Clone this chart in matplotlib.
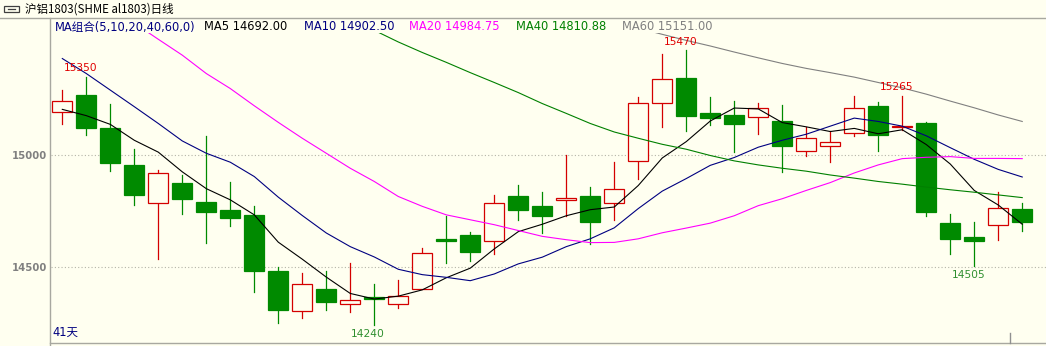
import numpy as np
import matplotlib
matplotlib.use("Agg")
import matplotlib.pyplot as plt
from matplotlib.lines import Line2D
from matplotlib.patches import Rectangle

W, H = 1046, 346
BG = "#FFFFF0"
UP = "#D40000"
DOWN = "#008A00"

# daily OHLC for 41 sessions
opens = [15194, 15269, 15124, 14958, 14789, 14878, 14793, 14757, 14734, 14483,
         14303, 14403, 14334, 14365, 14334, 14401, 14628, 14646, 14617, 14820,
         14775, 14800, 14820, 14787, 14975, 15235, 15344, 15191, 15178, 15172,
         15151, 15020, 15042, 15100, 15218, 15125, 15142, 14699, 14636, 14688,
         14761]
highs = [15290, 15350, 15227, 15030, 14936, 14914, 15087, 14881, 14775, 14500,
         14473, 14483, 14521, 14425, 14443, 14585, 14730, 14657, 14824, 14869,
         14837, 15002, 14857, 14972, 15262, 15451, 15470, 15258, 15244, 15232,
         15223, 15127, 15109, 15263, 15237, 15265, 15148, 14739, 14703, 14837,
         14789]
lows = [15141, 15090, 14928, 14776, 14539, 14737, 14610, 14686, 14391, 14252,
        14272, 14307, 14298, 14240, 14316, 14401, 14518, 14530, 14561, 14713,
        14651, 14728, 14603, 14709, 14892, 15125, 15108, 15134, 15013, 15097,
        14924, 14999, 14969, 15085, 15018, 15115, 14727, 14560, 14505, 14622,
        14664]
closes = [15244, 15121, 14964, 14821, 14921, 14803, 14745, 14718, 14485, 14307,
          14424, 14346, 14354, 14358, 14371, 14564, 14619, 14570, 14787, 14754,
          14728, 14811, 14704, 14849, 15235, 15342, 15175, 15166, 15139, 15212,
          15040, 15078, 15060, 15212, 15090, 15132, 14745, 14628, 14619, 14764,
          14700]

nan = np.nan
ma5 = [15205, 15177, 15138, 15067, 15014, 14926, 14851, 14801, 14734, 14612,
       14536, 14456, 14383, 14358, 14371, 14399, 14453, 14496, 14582, 14659,
       14692, 14730, 14757, 14769, 14865, 14988, 15061, 15153, 15211, 15207,
       15146, 15127, 15106, 15120, 15096, 15114, 15048, 14961, 14843, 14778,
       14692]
ma10 = [15432, 15365, 15291, 15217, 15142, 15064, 15009, 14969, 14905, 14813,
        14731, 14653, 14592, 14546, 14491, 14467, 14455, 14440, 14470, 14515,
        14545, 14592, 14627, 14676, 14762, 14840, 14896, 14955, 14990, 15036,
        15067, 15094, 15130, 15166, 15151, 15130, 15087, 15034, 14982, 14937,
        14903]
ma20 = [nan, nan, nan, 15590, 15518, 15447, 15365, 15298, 15221, 15147,
        15076, 15009, 14942, 14883, 14816, 14772, 14734, 14712, 14690, 14664,
        14638, 14623, 14610, 14611, 14627, 14654, 14675, 14697, 14730, 14775,
        14806, 14843, 14878, 14921, 14957, 14985, 14991, 14994, 14986, 14986,
        14985]
ma40 = [nan] * 13 + [
        15558, 15506, 15459, 15415, 15369, 15325, 15280,
        15231, 15187, 15142, 15104, 15076, 15049, 15027, 14999, 14975, 14957,
        14942, 14929, 14912, 14898, 14883, 14871, 14858, 14846, 14835, 14823,
        14811]
ma60 = [nan] * 24 + [
        15568, 15540, 15513, 15488, 15461, 15435,
        15410, 15388, 15369, 15349, 15325, 15301, 15273, 15242, 15212, 15180,
        15151]

ma_names = ["MA5", "MA10", "MA20", "MA40", "MA60"]
ma_last = ["14692.00", "14902.50", "14984.75", "14810.88", "15151.00"]
ma_colors = ["#000000", "#000080", "#FF00FF", "#008000", "#808080"]
ma_text_x = [204, 304, 409, 516, 622]

high_marks = [2, 27, 36]
low_marks = [14, 39]
y_ticks = [14500, 15000]

title = "沪铝1803(SHME al1803)日线"
ma_header = "MA组合(5,10,20,40,60,0)"
days_label = "41天"

FONTS = ["DejaVu Sans", "Noto Sans CJK SC"]
CJK = ["Noto Sans CJK SC", "DejaVu Sans"]


def fx(x):
    return x / W


def fy(y):
    return 1 - y / H


fig = plt.figure(figsize=(W / 100, H / 100), dpi=100, facecolor=BG)
ax = fig.add_axes([fx(51), fy(342.5), fx(W - 51), (342.5 - 33) / H])
ax.set_facecolor(BG)
for s in ax.spines.values():
    s.set_visible(False)
ax.set_xlim(0.529, 41.99)
ax.set_ylim(14164, 15546)
ax.set_xticks([])
ax.set_yticks(y_ticks)
ax.set_yticklabels([str(v) for v in y_ticks], fontweight="bold")
ax.tick_params(axis="y", length=0, pad=2.5, labelsize=7.3, labelcolor="#808080")
for v in y_ticks:
    ax.axhline(v, color="#B4B4A8", lw=0.8, ls=(0, (1, 2)), zorder=0)

n = len(closes)
xs = np.arange(1, n + 1)
bw = 0.82
for i in range(n):
    x = xs[i]
    o, h, l, c = opens[i], highs[i], lows[i], closes[i]
    top, bot = max(o, c), min(o, c)
    if c > o:
        ax.plot([x, x], [top, h], color=UP, lw=0.9, zorder=2)
        ax.plot([x, x], [l, bot], color=UP, lw=0.9, zorder=2)
        ax.add_patch(Rectangle((x - bw / 2, bot), bw, top - bot, facecolor=BG,
                               edgecolor=UP, lw=0.9, zorder=3))
    else:
        ax.plot([x, x], [l, h], color=DOWN, lw=0.9, zorder=2)
        ax.add_patch(Rectangle((x - bw / 2, bot), bw, max(top - bot, 4), facecolor=DOWN,
                               edgecolor=DOWN, lw=0.9, zorder=3))

for vals, col in zip([ma5, ma10, ma20, ma40, ma60], ma_colors):
    ax.plot(xs, vals, color=col, lw=0.8, zorder=4)

for k in high_marks:
    ax.annotate(str(highs[k - 1]), (k, highs[k - 1]), xytext=(-6, 8.5),
                textcoords="offset pixels", ha="center", va="center",
                fontsize=7.7, color="#E00000", zorder=6)
for k in low_marks:
    ax.annotate(str(lows[k - 1]), (k, lows[k - 1]), xytext=(-6, -9),
                textcoords="offset pixels", ha="center", va="center",
                fontsize=7.7, color="#2F8F2F", zorder=6)

# frame lines
fig.add_artist(Line2D([0, 1], [fy(18), fy(18)], color="#A8A8A0", lw=1))
fig.add_artist(Line2D([fx(50), fx(50)], [fy(18), 0], color="#A8A8A0", lw=1))
fig.add_artist(Line2D([fx(50), 1], [fy(342.5), fy(342.5)], color="#A8A8A0", lw=1))
fig.add_artist(Line2D([fx(1010), fx(1010)], [fy(333), fy(342.5)], color="#909090", lw=1))

# header icon and title
fig.add_artist(Rectangle((fx(4), fy(12)), fx(15), 6 / H, fill=False,
                         edgecolor="#404040", lw=0.9))
fig.add_artist(Line2D([fx(8), fx(15)], [fy(9), fy(9)], color="#404040", lw=0.9))
fig.text(fx(25), fy(9), title, family=CJK, fontsize=8.3, color="#000000",
         ha="left", va="center")

fig.text(fx(55), fy(27), ma_header, family=FONTS, fontsize=8.3, color="#000080",
         ha="left", va="center")
for name, val, col, x in zip(ma_names, ma_last, ma_colors, ma_text_x):
    fig.text(fx(x), fy(27), f"{name} {val}", family=FONTS, fontsize=8.3, color=col,
             ha="left", va="center")

fig.text(fx(52), fy(332), days_label, family=FONTS, fontsize=8.3, color="#000080",
         ha="left", va="center")

fig.savefig("out.png", dpi=100, facecolor=BG)
